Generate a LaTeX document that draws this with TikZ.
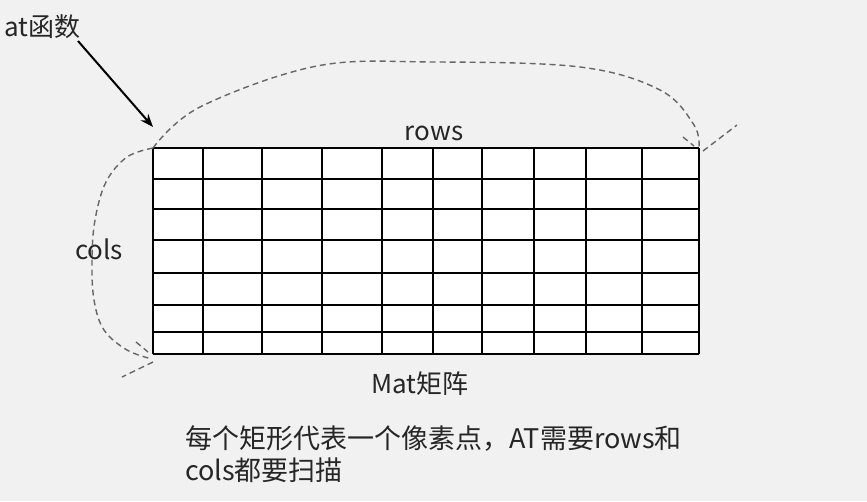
\documentclass[tikz,border=0pt]{standalone}
\usepackage{fontspec}
\setmainfont{Noto Sans CJK SC}
\usetikzlibrary{arrows.meta}
\definecolor{bg}{HTML}{F1F1F1}
\definecolor{txt}{HTML}{262626}
\definecolor{dsh}{HTML}{666666}
\begin{document}
\begin{tikzpicture}[x=1pt,y=-1pt,
  lbl/.style={text=txt,inner sep=0pt,font=\fontsize{26}{33}\selectfont},
  gridline/.style={black,line width=1.6pt},
  dashcurve/.style={dsh,line width=1.4pt,dash pattern=on 6pt off 4pt},
  ptr/.style={black,line width=2pt,-{Stealth[length=13pt,width=10pt]}}]
\useasboundingbox (0,0) rectangle (867,501);
\fill[bg] (0,0) rectangle (867,501);
% grid
\coordinate (tl) at (153,148);
\coordinate (tr) at (699,148);
\coordinate (bl) at (153,354);
\fill[white] (tl) rectangle (699,354);
\foreach \x in {153,203,262,322,382,433,482,534,586,642,699}
  \draw[gridline] (\x,148) -- (\x,354);
\foreach \y in {148,179,209,240,273,305,332,354}
  \draw[gridline] (153,\y) -- (699,\y);
% labels
\node[lbl,anchor=west] (atf) at (4,27) {at函数};
\node[lbl] (rows) at (434,133) {rows};
\node[lbl] (cols) at (99,249) {cols};
\node[lbl] (mat) at (420,384) {Mat矩阵};
\node[lbl,anchor=base west,align=left,font=\fontsize{27}{32}\selectfont] (desc) at (185,480)
  {每个矩形代表一个像素点，AT需要rows和\\cols都要扫描};
% pointer arrow
\coordinate (atp) at (153,127);
\draw[ptr] (78,41) -- (atp);
% rows sweep curve
\draw[dashcurve] plot[smooth,tension=0.6] coordinates
  {(tl) (200,107) (317,66) (433,62) (580,67) (660,90) (694,125) (tr)};
\coordinate (rh1) at (683,137);
\coordinate (rh2) at (737,125);
\draw[dashcurve] (rh1) -- (694,146);
\draw[dashcurve] (703,151) -- (rh2);
% cols sweep curve
\coordinate (ce) at (152,359);
\draw[dashcurve] plot[smooth,tension=0.6] coordinates
  {(tl) (127,157) (106,182) (95,220) (92,260) (94,300) (104,330) (127,350) (ce)};
\coordinate (ch1) at (136,342);
\coordinate (ch2) at (122,377);
\draw[dashcurve] (ch1) -- (148,352);
\draw[dashcurve] (153,362) -- (ch2);
\end{tikzpicture}
\end{document}
